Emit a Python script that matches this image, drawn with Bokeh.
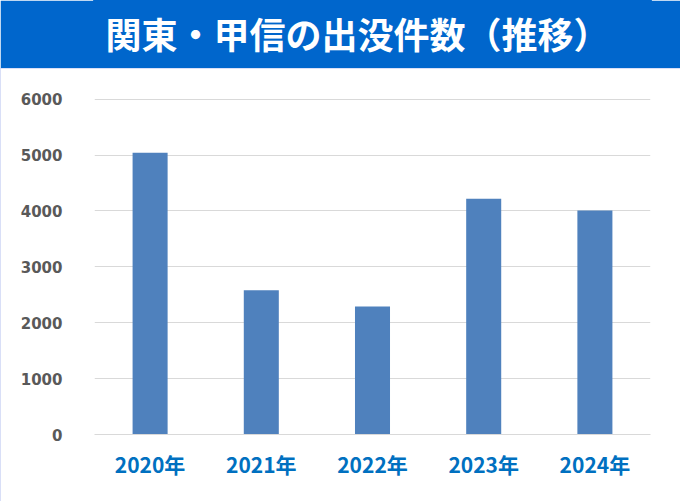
from bokeh.plotting import figure
from bokeh.layouts import column
from bokeh.models import ColumnDataSource, Range1d, FactorRange, Label, FixedTicker
from bokeh.embed import file_html
from bokeh.resources import INLINE

# ---- data ----
years = ["2020年", "2021年", "2022年", "2023年", "2024年"]
counts = [5040, 2580, 2290, 4220, 4010]
y_ticks = [0, 1000, 2000, 3000, 4000, 5000, 6000]
title_text = "関東・甲信の出没件数（推移）"

BLUE = "#0066CC"
W = 680
LEFT, RIGHT = 94, 30
FRAME_W = W - LEFT - RIGHT

# ---- header bar (same horizontal borders as the chart; column aligns frames) ----
head = figure(frame_width=FRAME_W, frame_height=68, x_range=Range1d(0, 1), y_range=Range1d(0, 1),
              x_axis_type=None, y_axis_type=None, toolbar_location=None,
              output_backend="svg", min_border_left=LEFT, min_border_right=RIGHT,
              min_border_top=0, min_border_bottom=0)
head.border_fill_color = BLUE
head.background_fill_color = BLUE
head.outline_line_color = BLUE
head.outline_line_width = 3
head.grid.visible = False
head.add_layout(Label(x=(105 - LEFT) / FRAME_W, y=0.52, text=title_text, text_align="left",
                      text_baseline="middle", text_color="white",
                      text_font="Noto Sans CJK JP", text_font_style="bold",
                      text_font_size="36px"))

# ---- main chart ----
src = ColumnDataSource(dict(years=years, counts=counts))
p = figure(frame_width=FRAME_W, frame_height=336, x_range=FactorRange(*years),
           y_range=Range1d(0, 6012),
           toolbar_location=None, output_backend="svg",
           min_border_left=LEFT, min_border_right=RIGHT, min_border_top=30, min_border_bottom=67)
p.vbar(x="years", top="counts", width=0.315, source=src, color="#4F81BD", line_color=None)
p.outline_line_color = None
p.background_fill_color = "white"
p.border_fill_color = "white"
p.xgrid.visible = False
p.ygrid.grid_line_color = "#D9D9D9"
p.ygrid.grid_line_width = 1
p.yaxis.ticker = FixedTicker(ticks=y_ticks)
p.yaxis.axis_line_color = None
p.yaxis.major_tick_line_color = None
p.yaxis.minor_tick_line_color = None
p.yaxis.major_label_text_font = "DejaVu Sans"
p.yaxis.major_label_text_font_style = "bold"
p.yaxis.major_label_text_font_size = "15px"
p.yaxis.major_label_text_color = "#595959"
p.yaxis.major_label_standoff = 26
p.xaxis.axis_line_color = "#D9D9D9"
p.xaxis.axis_line_width = 1
p.xaxis.major_tick_line_color = None
p.xaxis.minor_tick_line_color = None
p.xaxis.major_label_text_font = "Noto Sans CJK JP"
p.xaxis.major_label_text_font_style = "bold"
p.xaxis.major_label_text_font_size = "21px"
p.xaxis.major_label_text_color = "#0070C0"
p.xaxis.major_label_standoff = 8
p.styles = {"outline": "1px solid #CCD5F5", "outline-offset": "-1px"}

layout = column(head, p, spacing=0)
open("out.html", "w").write(file_html(layout, INLINE))
